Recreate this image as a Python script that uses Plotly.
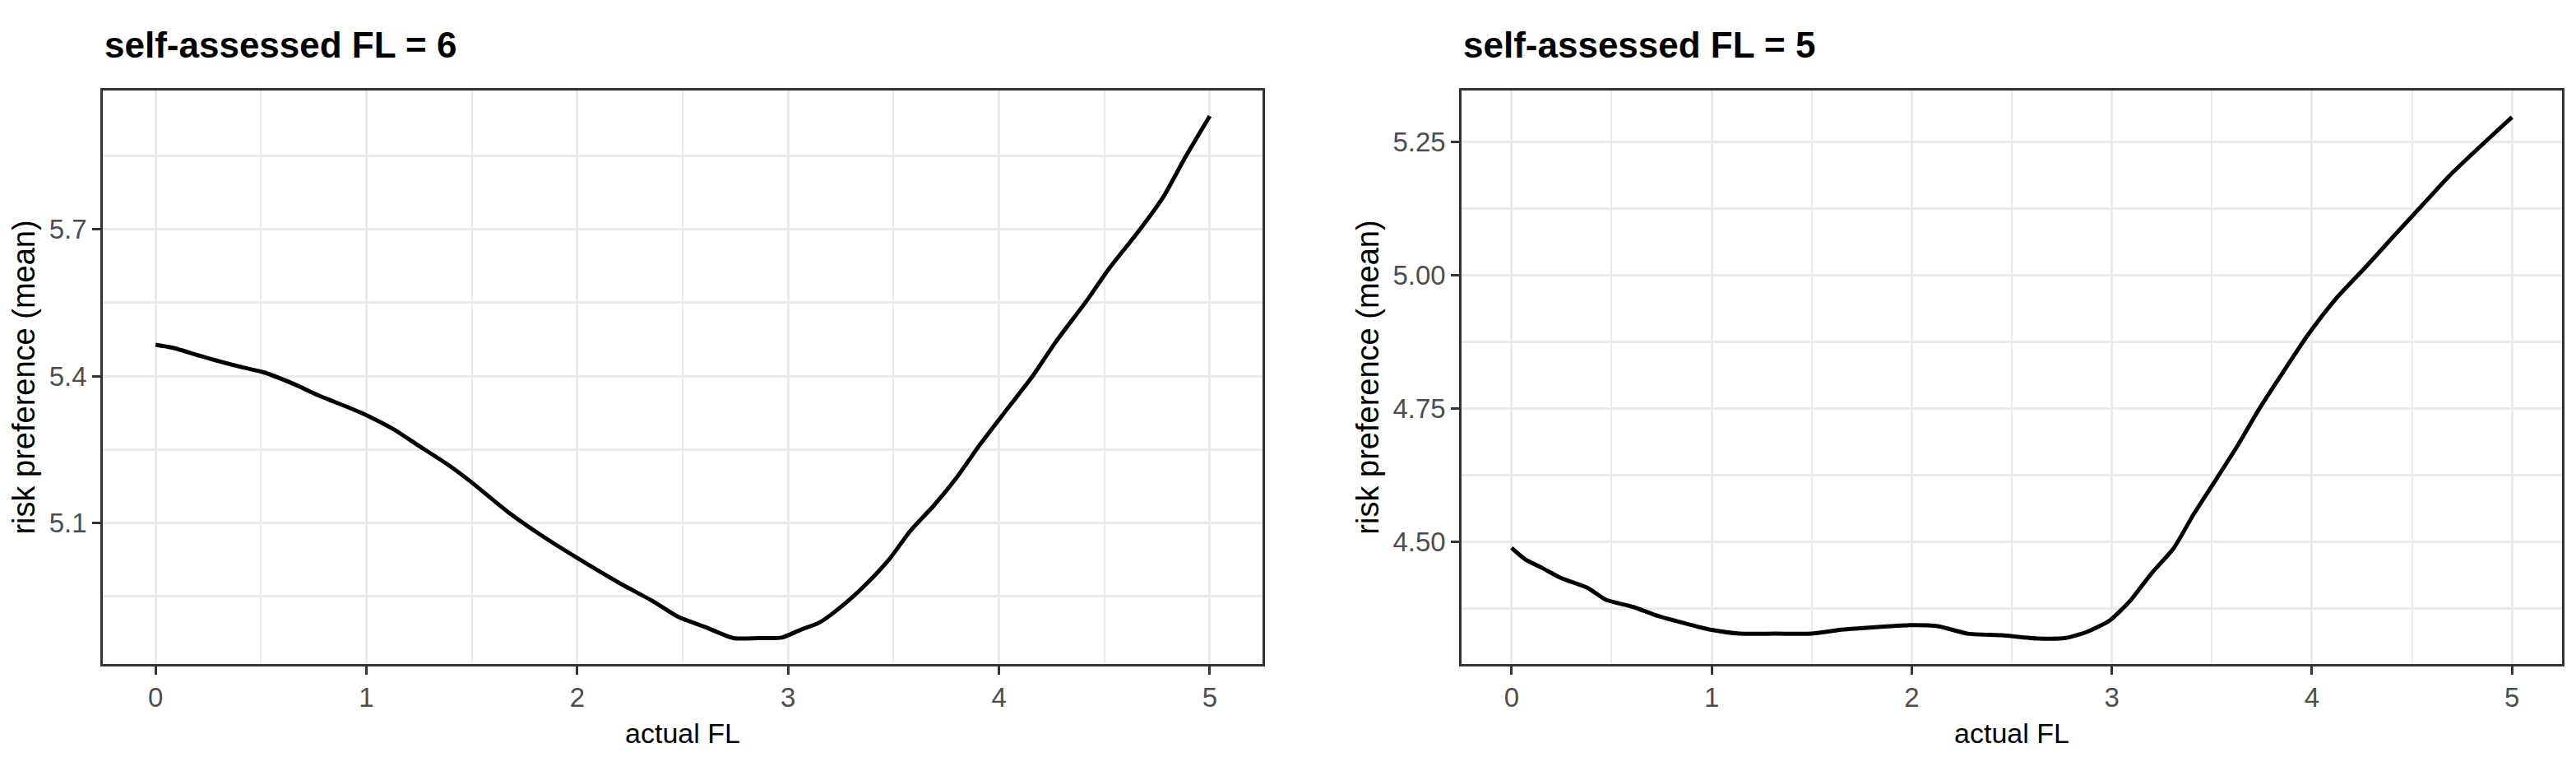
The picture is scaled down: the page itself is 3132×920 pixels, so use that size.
import plotly.graph_objects as go

# values
fl_left = [0.0, 0.08, 0.22, 0.4, 0.51, 0.66, 0.77, 0.97, 1.13, 1.24, 1.38, 1.49, 1.67,
           1.85, 2.01, 2.21, 2.36, 2.48, 2.61, 2.74, 2.86, 2.97, 3.06, 3.15, 3.26, 3.37,
           3.48, 3.58, 3.69, 3.8, 3.91, 4.02, 4.16, 4.27, 4.42, 4.52, 4.67, 4.78, 4.88, 5.0]
risk_left = [5.464, 5.458, 5.44, 5.419, 5.408, 5.383, 5.361, 5.326, 5.291, 5.26, 5.221,
             5.186, 5.123, 5.069, 5.026, 4.975, 4.94, 4.908, 4.887, 4.865, 4.865, 4.866,
             4.882, 4.897, 4.932, 4.975, 5.026, 5.084, 5.135, 5.193, 5.26, 5.322, 5.4,
             5.47, 5.556, 5.618, 5.7, 5.766, 5.844, 5.931]

fl_right = [0.0, 0.07, 0.15, 0.25, 0.38, 0.47, 0.61, 0.71, 0.86, 1.0, 1.14, 1.32, 1.5,
            1.64, 1.82, 1.99, 2.13, 2.28, 2.45, 2.63, 2.77, 2.88, 2.99, 3.09, 3.2, 3.31,
            3.41, 3.52, 3.63, 3.73, 3.84, 3.98, 4.12, 4.27, 4.41, 4.55, 4.69, 4.83, 5.0]
risk_right = [4.488, 4.466, 4.451, 4.431, 4.413, 4.391, 4.377, 4.363, 4.347, 4.334, 4.327,
              4.327, 4.327, 4.334, 4.339, 4.343, 4.341, 4.327, 4.324, 4.318, 4.319, 4.331,
              4.352, 4.388, 4.441, 4.488, 4.552, 4.616, 4.681, 4.745, 4.809, 4.888, 4.956,
              5.016, 5.074, 5.131, 5.188, 5.238, 5.297]

titles = ["self-assessed FL = 6", "self-assessed FL = 5"]

W, H = 3132, 920
FONT = "Liberation Sans, Arial, sans-serif"

fig = go.Figure()
fig.add_scatter(x=fl_left, y=risk_left, mode="lines", xaxis="x", yaxis="y",
                line=dict(color="black", width=5, shape="spline", smoothing=0.6),
                showlegend=False)
fig.add_scatter(x=fl_right, y=risk_right, mode="lines", xaxis="x2", yaxis="y2",
                line=dict(color="black", width=5, shape="spline", smoothing=0.6),
                showlegend=False)

ydom = [1 - 799 / H, 1 - 102 / H]
common_x = dict(
    range=[-0.25, 5.25], dtick=1, tick0=0,
    showline=True, mirror=True, linecolor="#333333", linewidth=2.5,
    ticks="outside", ticklen=10, tickwidth=2.5, tickcolor="#333333",
    showgrid=True, gridcolor="#EBEBEB", gridwidth=2.5, zeroline=False,
    minor=dict(dtick=0.5, showgrid=True, gridcolor="#EBEBEB", gridwidth=2, ticks=""),
    tickfont=dict(family=FONT, size=33, color="#4D4D4D"),
    title=dict(text="actual FL", font=dict(family=FONT, size=34, color="black"), standoff=14),
)
common_y = dict(
    showline=True, mirror=True, linecolor="#333333", linewidth=2.5,
    ticks="outside", ticklen=10, tickwidth=2.5, tickcolor="#333333",
    showgrid=True, gridcolor="#EBEBEB", gridwidth=3, zeroline=False,
    tickfont=dict(family=FONT, size=33, color="#4D4D4D"),
    title=dict(text="risk preference (mean)", font=dict(family=FONT, size=38, color="black"),
               standoff=6),
)

fig.update_layout(
    width=W, height=H, autosize=False,
    margin=dict(l=0, r=0, t=0, b=0),
    plot_bgcolor="white", paper_bgcolor="white",
    xaxis=dict(domain=[117 / W, 1527 / W], anchor="y", **common_x),
    xaxis2=dict(domain=[1769 / W, 3107 / W], anchor="y2", **common_x),
    yaxis=dict(domain=ydom, anchor="x", range=[4.812, 5.983], tick0=5.1, dtick=0.3,
               tickformat=".1f",
               minor=dict(dtick=0.15, showgrid=True, gridcolor="#EBEBEB", gridwidth=2.5, ticks=""),
               **common_y),
    yaxis2=dict(domain=ydom, anchor="x2", range=[4.27, 5.347], tick0=4.5, dtick=0.25,
                tickformat=".2f",
                minor=dict(dtick=0.125, showgrid=True, gridcolor="#EBEBEB", gridwidth=2.5, ticks=""),
                **common_y),
)

for xpos, t in zip([117 / W, 1769 / W], titles):
    fig.add_annotation(text="<b>" + t + "</b>", xref="paper", yref="paper",
                       x=xpos, y=1 - 47 / H, xanchor="left", yanchor="middle",
                       showarrow=False, font=dict(family=FONT, size=44, color="black"))

fig.write_html("out.html")
